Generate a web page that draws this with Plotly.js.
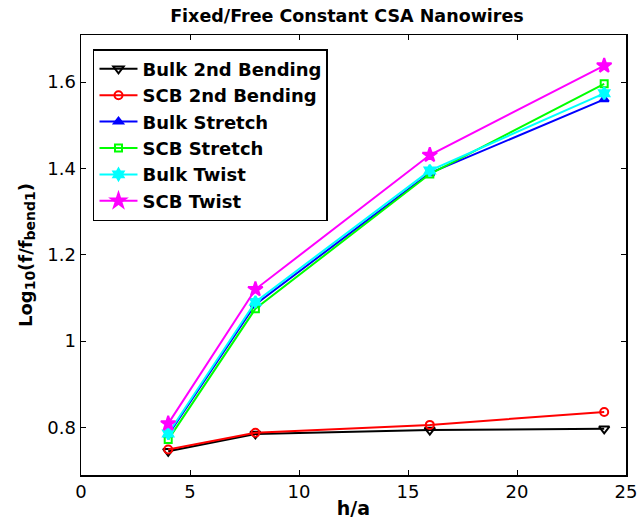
<!DOCTYPE html>
<html>
<head>
<meta charset="utf-8">
<script src="https://cdn.plot.ly/plotly-3.0.1.min.js"></script>
<style>
  html, body { margin: 0; padding: 0; background: #fff; }
  #chart { width: 638px; height: 519px; }
</style>
</head>
<body>
<div id="chart"></div>
<script>
// Aspect ratio h/a
const ratios = [4, 8, 16, 24];

// log10(f / f_bend1) for each mode
const bulkBend2   = [0.745, 0.785, 0.794, 0.797];
const scbBend2    = [0.749, 0.788, 0.806, 0.836];
const bulkStretch = [0.783, 1.085, 1.389, 1.560];
const scbStretch  = [0.772, 1.075, 1.387, 1.596];
const bulkTwist   = [0.786, 1.091, 1.395, 1.574];
const scbTwist    = [0.809, 1.120, 1.431, 1.638];

const seriesNames = ['Bulk 2nd Bending', 'SCB 2nd Bending', 'Bulk Stretch',
                     'SCB Stretch', 'Bulk Twist', 'SCB Twist'];

const font = '"DejaVu Sans", Arial, sans-serif';

function line(name, y, color, symbol, size) {
  return {
    x: ratios, y: y, name: name, type: 'scatter', mode: 'lines+markers',
    line: { color: color, width: 2 },
    marker: { symbol: symbol, size: size, color: color,
              line: { color: color, width: 2 } }
  };
}

const traces = [
  line(seriesNames[0], bulkBend2,   '#000000', 'triangle-down-open', 9),
  line(seriesNames[1], scbBend2,    '#ff0000', 'circle-open', 8),
  line(seriesNames[2], bulkStretch, '#0000ff', 'triangle-up', 8),
  line(seriesNames[3], scbStretch,  '#00ff00', 'square-open', 7),
  line(seriesNames[4], bulkTwist,   '#00ffff', 'hexagram', 9),
  line(seriesNames[5], scbTwist,    '#ff00ff', 'star', 11)
];

const axisCommon = {
  showline: true, linecolor: '#000', linewidth: 1.5, mirror: 'ticks',
  ticks: 'inside', ticklen: 5, tickwidth: 1, tickcolor: '#000',
  showgrid: false, zeroline: false,
  tickfont: { family: font, size: 18, color: '#000' }
};

const layout = {
  width: 638, height: 519,
  margin: { l: 81, r: 12, t: 35, b: 44 },
  paper_bgcolor: '#fff', plot_bgcolor: '#fff',
  title: {
    text: '<b>Fixed/Free Constant CSA Nanowires</b>',
    font: { family: font, size: 17.5, color: '#000' },
    x: 0.488, xanchor: 'center', xref: 'paper',
    y: 0.969, yanchor: 'middle', yref: 'container'
  },
  xaxis: Object.assign({}, axisCommon, {
    range: [0, 25], tickvals: [0, 5, 10, 15, 20, 25],
    title: { text: '<b>h/a</b>', font: { family: font, size: 19, color: '#000' }, standoff: 0 }
  }),
  yaxis: Object.assign({}, axisCommon, {
    range: [0.690, 1.709], tickvals: [0.8, 1, 1.2, 1.4, 1.6],
    ticktext: ['0.8', '1', '1.2', '1.4', '1.6'],
    title: { text: '<b>Log<sub><span style="font-size:14px">10</span></sub>(f/f<sub><span style="font-size:14px">bend1</span></sub>)</b>',
             font: { family: font, size: 18, color: '#000' }, standoff: 10 }
  }),
  legend: {
    x: 0.022, y: 0.968, xanchor: 'left', yanchor: 'top',
    bgcolor: '#fff', bordercolor: '#000', borderwidth: 1.5,
    font: { family: font, size: 18, color: '#000', weight: 'bold' },
    tracegroupgap: 0, itemwidth: 38
  },
  showlegend: true
};

Plotly.newPlot('chart', traces, layout, { displayModeBar: false, staticPlot: true });
</script>
</body>
</html>
